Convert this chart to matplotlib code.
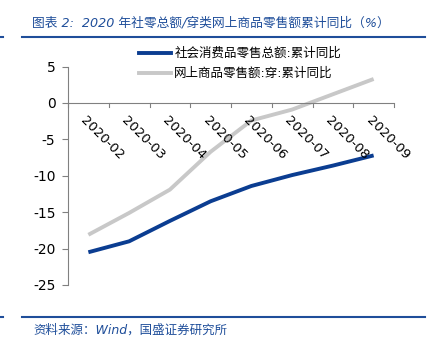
import matplotlib.pyplot as plt
from matplotlib.lines import Line2D

plt.rcParams['font.family'] = ['DejaVu Sans', 'Noto Sans CJK SC']

# данные
months = ['2020-02', '2020-03', '2020-04', '2020-05',
          '2020-06', '2020-07', '2020-08', '2020-09']
retail_total = [-20.5, -19.0, -16.2, -13.5, -11.4, -9.9, -8.6, -7.2]
online_wear = [-18.1, -15.1, -11.9, -6.7, -2.4, -0.9, 1.2, 3.3]

name_total = '社会消费品零售总额:累计同比'
name_online = '网上商品零售额:穿:累计同比'
title = '图表 2:  2020 年社零总额/穿类网上商品零售额累计同比（%）'
source = '资料来源：Wind，国盛证券研究所'

blue = '#0B3D91'
gray = '#C8C8C8'
text_blue = '#1F4E9A'

W, H = 446, 339
fig = plt.figure(figsize=(W / 100, H / 100), dpi=100)

# оси в пикселях
left, right, top, bottom = 68, 394, 66.6, 285
ax = fig.add_axes([left / W, 1 - bottom / H, (right - left) / W, (bottom - top) / H])

x = list(range(len(months)))
ax.plot(x, retail_total, color=blue, lw=2.8, solid_capstyle='butt')
ax.plot(x, online_wear, color=gray, lw=2.8, solid_capstyle='butt')

ax.set_xlim(-0.5, len(months) - 0.5)
ax.set_ylim(-25, 5)
ax.set_yticks([5, 0, -5, -10, -15, -20, -25])
ax.set_yticklabels(['5', '0', '-5', '-10', '-15', '-20', '-25'])

for s in ['top', 'right', 'bottom']:
    ax.spines[s].set_visible(False)
ax.spines['left'].set_color('#808080')
ax.spines['left'].set_linewidth(0.8)

# ось x на нуле
ax.axhline(0, color='#808080', lw=0.8)
ax.set_xticks([])
for i in range(len(months) + 1):
    ax.plot([i - 0.5, i - 0.5], [0, -0.6], color='#808080', lw=0.8, clip_on=False)
for i, m in enumerate(months):
    ax.text(i - 0.02, -1.5, m, rotation=-45, rotation_mode='anchor',
            ha='left', va='top', fontsize=9.5, color='black')

ax.tick_params(axis='y', length=4, width=0.8, color='#808080',
               labelsize=10, pad=5)

# легенда
handles = [Line2D([], [], color=blue, lw=2.8), Line2D([], [], color=gray, lw=2.8)]
fig.legend(handles, [name_total, name_online], loc='upper left',
           bbox_to_anchor=(128 / W, 1 - 36 / H), frameon=False,
           fontsize=9, handlelength=2.5, handletextpad=0.3, labelspacing=0.55)

# заголовок и источник
fig.text(32 / W, 1 - 23 / H, title, color=text_blue, fontsize=9.2,
         style='italic', va='center', ha='left')
fig.text(33 / W, 1 - 330 / H, source, color=text_blue, fontsize=9,
         style='italic', va='center', ha='left')
fig.add_artist(Line2D([22 / W, 425 / W], [1 - 37 / H, 1 - 37 / H],
                      color=text_blue, lw=1.5))
fig.add_artist(Line2D([22 / W, 425 / W], [1 - 316.5 / H, 1 - 316.5 / H],
                      color=text_blue, lw=1.5))
fig.add_artist(Line2D([0, 3 / W], [1 - 37 / H, 1 - 37 / H], color=text_blue, lw=1.5))
fig.add_artist(Line2D([0, 3 / W], [1 - 316.5 / H, 1 - 316.5 / H], color=text_blue, lw=1.5))

fig.savefig('out.png', dpi=100)
